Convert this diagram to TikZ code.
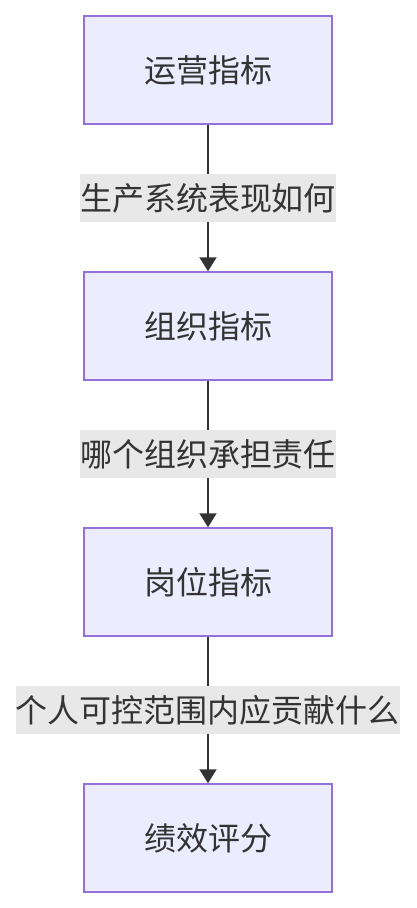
\documentclass[tikz,border=0pt]{standalone}
\usepackage{fontspec}
\setmainfont{Noto Sans CJK SC}
\usepackage{xcolor}
\usepackage{tikz}
\usetikzlibrary{arrows.meta}
\definecolor{BoxFill}{HTML}{ECECFF}
\definecolor{BoxLine}{HTML}{9370DB}
\definecolor{InkGray}{HTML}{333333}
\definecolor{LabelGray}{HTML}{E8E8E8}
\tikzset{
  metric/.style={draw=BoxLine, line width=1.5pt, fill=BoxFill, minimum width=248pt, minimum height=108pt,
    inner sep=0pt, font=\fontsize{32}{38}\selectfont, text=InkGray},
  flow/.style={-{Triangle[length=14pt, width=17pt]}, line width=2pt, draw=InkGray},
  flowlabel/.style={fill=LabelGray, inner sep=0pt, minimum height=48pt, font=\fontsize{32}{38}\selectfont, text=InkGray},
}

\begin{document}
\begin{tikzpicture}[x=1pt, y=-1pt]
  \useasboundingbox (0,0) rectangle (416,908);
  \foreach \t [count=\i] in {运营指标, 组织指标, 岗位指标, 绩效评分}
    \node[metric] (m\i) at (208,{70+256*(\i-1)}) {\t};
  \foreach \i/\j/\t in {1/2/生产系统表现如何, 2/3/哪个组织承担责任, 3/4/个人可控范围内应贡献什么}
    \draw[flow] (m\i) -- node[flowlabel] (q\i) {\t} (m\j);
\end{tikzpicture}
\end{document}
